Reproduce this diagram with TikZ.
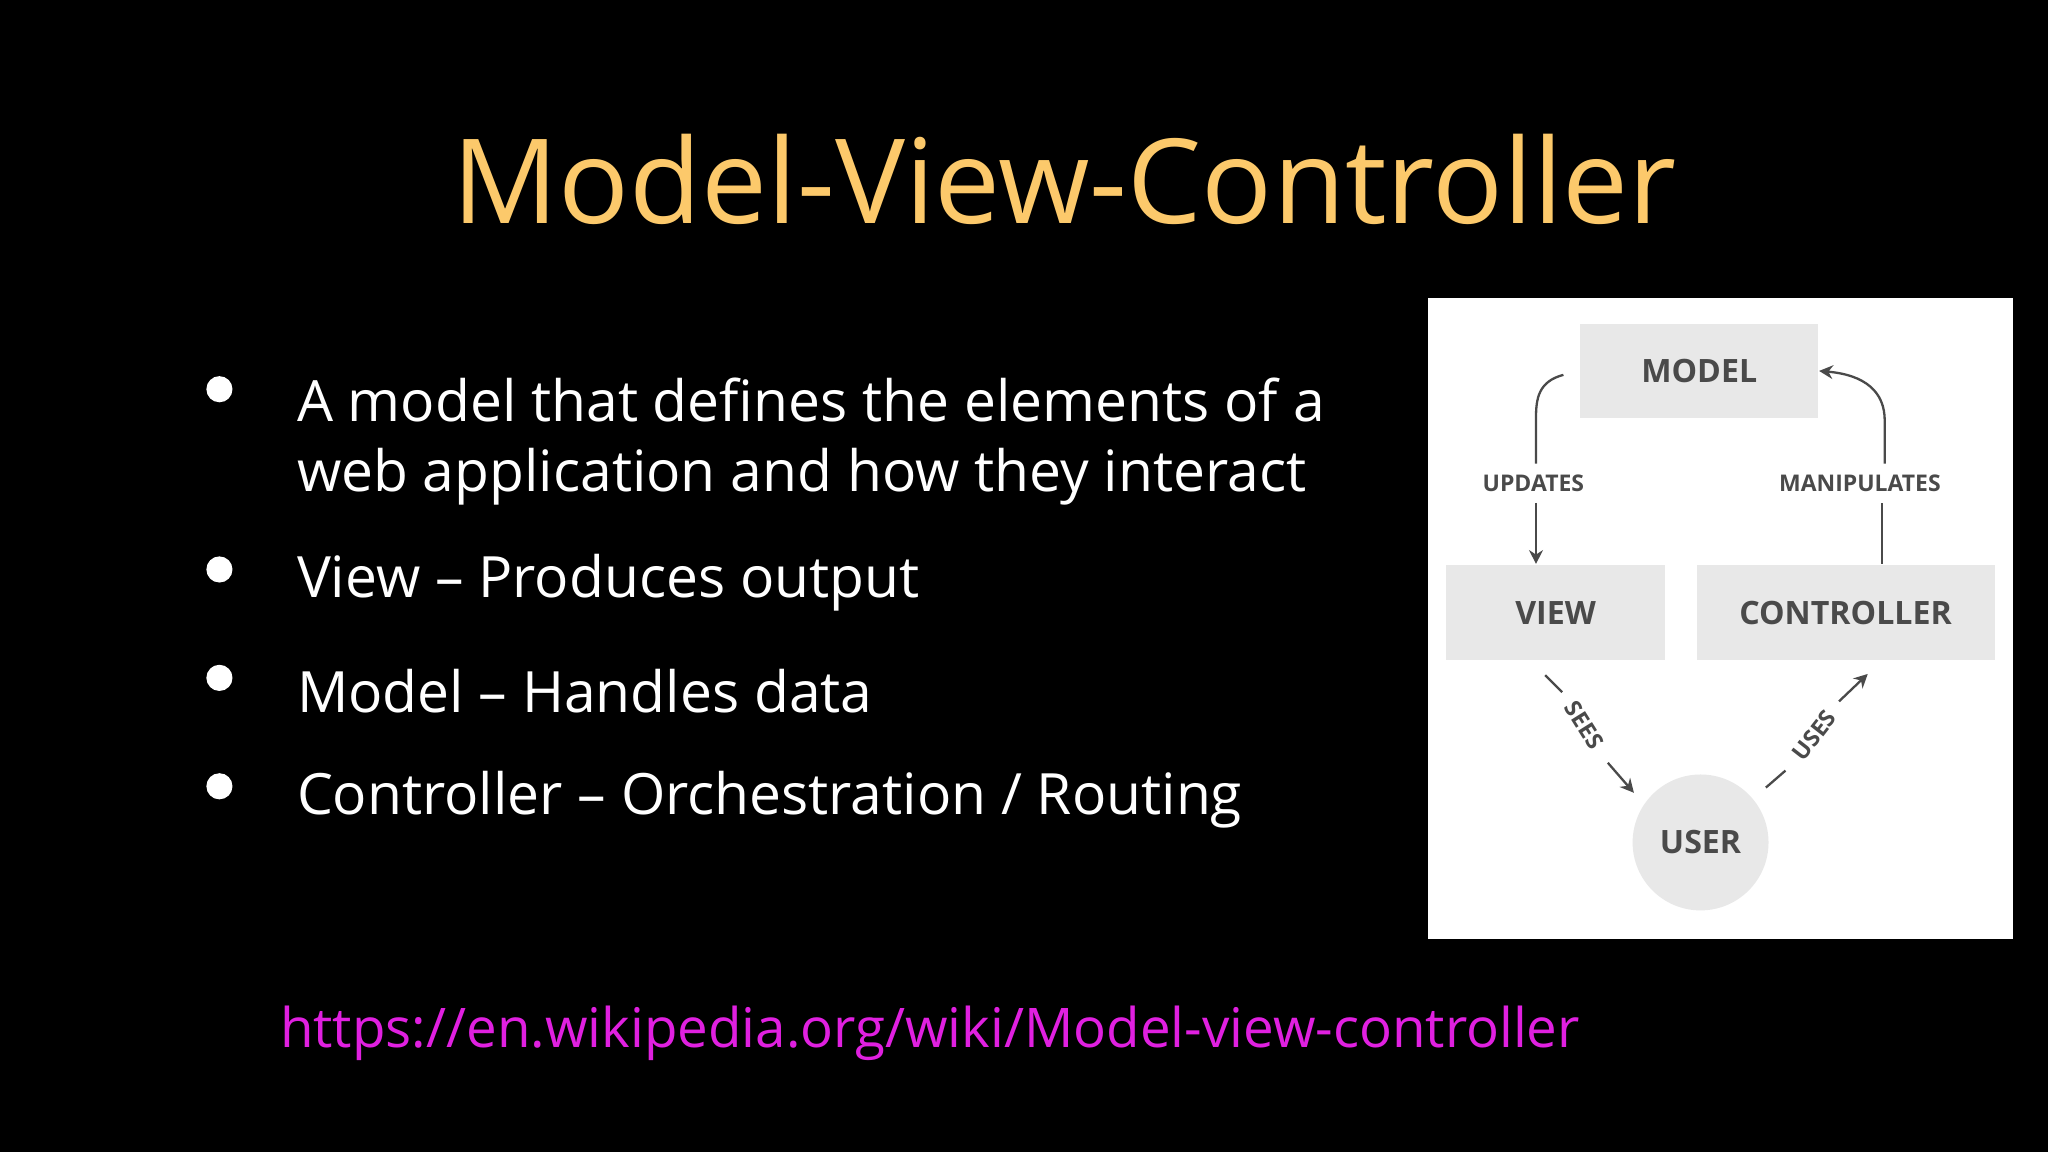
\documentclass[tikz,border=0pt]{standalone}
\usepackage{fontspec}
\setmainfont{Open Sans}
\usetikzlibrary{arrows.meta}
\definecolor{titlec}{HTML}{FCC96B}
\definecolor{urlc}{HTML}{E020E0}
\definecolor{boxc}{HTML}{E8E8E8}
\definecolor{labc}{HTML}{4A4A4A}
\tikzset{
 mbox/.style={fill=boxc,draw=none,font=\fontsize{7}{8}\selectfont\bfseries,text=labc},
 slab/.style={font=\fontsize{5}{6}\selectfont\bfseries,text=labc,inner sep=0pt},
 conn/.style={draw=labc,line width=0.5pt},
 arr/.style={conn,-{Stealth[length=3pt,width=3pt]}},
 btext/.style={anchor=west,text=white,font=\fontsize{12.4}{15.4}\selectfont,align=left},
 dot/.style={circle,fill=white,inner sep=0pt,minimum size=0.2cm}
}
\begin{document}
\begin{tikzpicture}[x=0.01cm,y=-0.01cm]
\fill[black] (0,0) rectangle (1568,882);
\useasboundingbox (0,0) rectangle (1568,882);
\node[text=titlec,font=\fontsize{25.6}{30}\selectfont] (title) at (815,137) {Model-View-Controller};
\node[dot] (d1) at (168,298) {};
\node[btext] (b1) at (215,338) {A model that defines the elements of a\\web application and how they interact};
\node[dot] (d2) at (168,436) {};
\node[btext] (b2) at (215,446) {View – Produces output};
\node[dot] (d3) at (168,519) {};
\node[btext] (b3) at (215,529) {Model – Handles data};
\node[dot] (d4) at (168,602) {};
\node[btext] (b4) at (215,612) {Controller – Orchestration / Routing};
\node[text=urlc,font=\fontsize{11.9}{15}\selectfont] (url) at (712,791) {https://en.wikipedia.org/wiki/Model-view-controller};
% diagram
\fill[white] (1093,228) rectangle (1541,719);
\node[mbox,minimum width=1.82cm,minimum height=0.72cm] (model) at (1301,284) {MODEL};
\node[mbox,minimum width=1.68cm,minimum height=0.73cm] (view) at (1191,469) {VIEW};
\node[mbox,minimum width=2.28cm,minimum height=0.73cm] (ctrl) at (1413,469) {CONTROLLER};
\node[circle,fill=boxc,minimum size=1.04cm,font=\fontsize{7}{8}\selectfont\bfseries,text=labc] (user) at (1302,645) {USER};
\node[slab] (upd) at (1174,370) {UPDATES};
\node[slab] (man) at (1424,370) {MANIPULATES};
\node[slab,rotate=-58] (sees) at (1213,555) {SEES};
\node[slab,rotate=52] (uses) at (1389,563) {USES};
\coordinate (u1) at (1197,287);
\draw[conn] (u1) .. controls (1178,292) and (1176,305) .. (1176,320) -- (1176,355);
\draw[arr] (1176,385) -- (view.north -| 1176,0);
\draw[conn] (ctrl.north -| 1441,0) -- (1441,385);
\draw[arr] (1443,355) -- (1443,322) .. controls (1443,300) and (1428,287) .. (model.east);
\coordinate (s1) at (1183,517);
\coordinate (s2) at (1196,530);
\coordinate (s3) at (1231,584);
\coordinate (s4) at (1251,607);
\draw[conn] (s1) -- (s2);
\draw[arr] (s3) -- (s4);
\coordinate (us1) at (1352,603);
\coordinate (us2) at (1367,590);
\coordinate (us3) at (1408,537);
\coordinate (us4) at (1430,516);
\draw[conn] (us1) -- (us2);
\draw[arr] (us3) -- (us4);
\end{tikzpicture}
\end{document}
